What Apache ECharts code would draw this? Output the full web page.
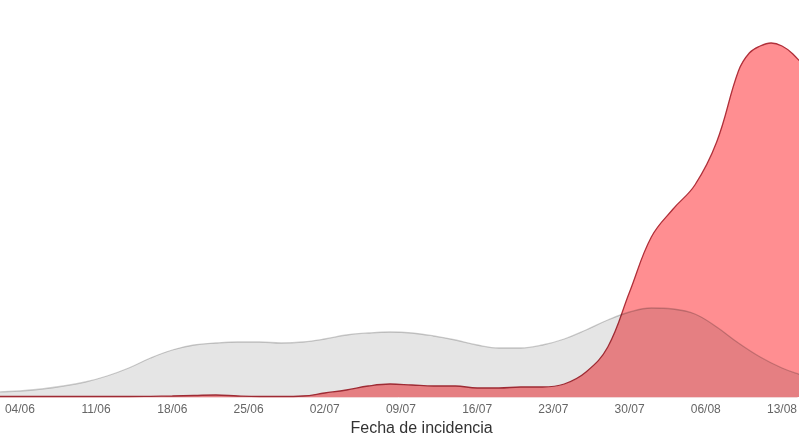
<!DOCTYPE html>
<html>
<head>
<meta charset="utf-8">
<script src="https://cdn.jsdelivr.net/npm/echarts@6/dist/echarts.min.js"></script>
<style>
html,body{margin:0;padding:0;background:#fff;}
#chart{width:800px;height:445px;}
</style>
</head>
<body>
<div id="chart"></div>
<script>
// Days since 04/06 (x) and density heights (arbitrary units)
const tickDays = [0, 7, 14, 21, 28, 35, 42, 49, 56, 63, 70];
const tickLabels = ['04/06', '11/06', '18/06', '25/06', '02/07', '09/07', '16/07', '23/07', '30/07', '06/08', '13/08'];

const greyDays = [-4, -2, 0, 2, 4, 6, 8, 10, 12, 14, 16, 18, 20, 22, 24, 26, 28, 30, 32, 34, 36, 38, 40, 42, 44, 46, 48, 50, 52, 54, 56, 58, 60, 62, 64, 66, 68, 70, 72, 74];
const greyValues = [3, 5, 6, 8, 11, 15, 21, 29, 39, 47, 52, 54, 55, 55, 54, 55, 58, 62, 64, 65, 64, 61, 57, 52, 49, 49, 52, 58, 67, 77, 85, 89, 88, 83, 70, 54, 40, 29, 21, 13];

const redDays = [-4, -2, 0, 2, 4, 6, 8, 10, 12, 14, 16, 18, 20, 22, 24, 26, 28, 30, 32, 34, 36, 38, 40, 42, 44, 46, 48, 50, 52, 54, 56, 58, 60, 62, 64, 66, 67, 68, 69, 70, 71, 73, 75];
const redValues = [0.5, 0.5, 0.5, 0.5, 0.5, 0.5, 0.5, 0.5, 0.7, 1, 1.5, 2, 1, 0.5, 0.5, 1, 4, 7, 11, 13, 12, 11, 11, 9, 9, 10, 10, 13, 25, 50, 105, 160, 188, 212, 255, 326, 344, 351, 354, 351, 343, 318, 285];

const zip = (xs, ys) => xs.map((x, i) => [x, ys[i]]);

const chart = echarts.init(document.getElementById('chart'));
chart.setOption({
  animation: false,
  grid: { left: 0, right: 0, top: 0, bottom: 48 },
  xAxis: {
    type: 'value',
    min: -1.83,
    max: 71.4,
    splitLine: { show: false },
    axisLine: { show: true, lineStyle: { color: '#f2d6d7', width: 1 } },
    axisTick: { show: false },
    axisLabel: {
      customValues: tickDays,
      formatter: v => tickLabels[tickDays.indexOf(Math.round(v))] || '',
      color: '#666',
      fontSize: 12,
      fontFamily: 'Liberation Sans, Arial, sans-serif',
      margin: 7
    },
    name: 'Fecha de incidencia',
    nameLocation: 'middle',
    nameGap: 23,
    nameTextStyle: {
      color: '#333',
      fontSize: 16,
      fontFamily: 'Liberation Sans, Arial, sans-serif',
      padding: [0, 0, 0, 46]
    }
  },
  yAxis: {
    type: 'value',
    min: 0,
    max: 397,
    show: false
  },
  series: [
    {
      type: 'line',
      data: zip(redDays, redValues),
      smooth: 0.4,
      symbol: 'none',
      clip: true,
      lineStyle: { color: '#b0303a', width: 1.3 },
      areaStyle: { color: '#ff8e91', opacity: 1 },
      z: 2
    },
    {
      type: 'line',
      data: zip(greyDays, greyValues),
      smooth: 0.4,
      symbol: 'none',
      clip: true,
      lineStyle: { color: 'rgba(0,0,0,0.2)', width: 1.3 },
      areaStyle: { color: 'rgba(0,0,0,0.1)', opacity: 1 },
      z: 3
    }
  ]
});
</script>
</body>
</html>
